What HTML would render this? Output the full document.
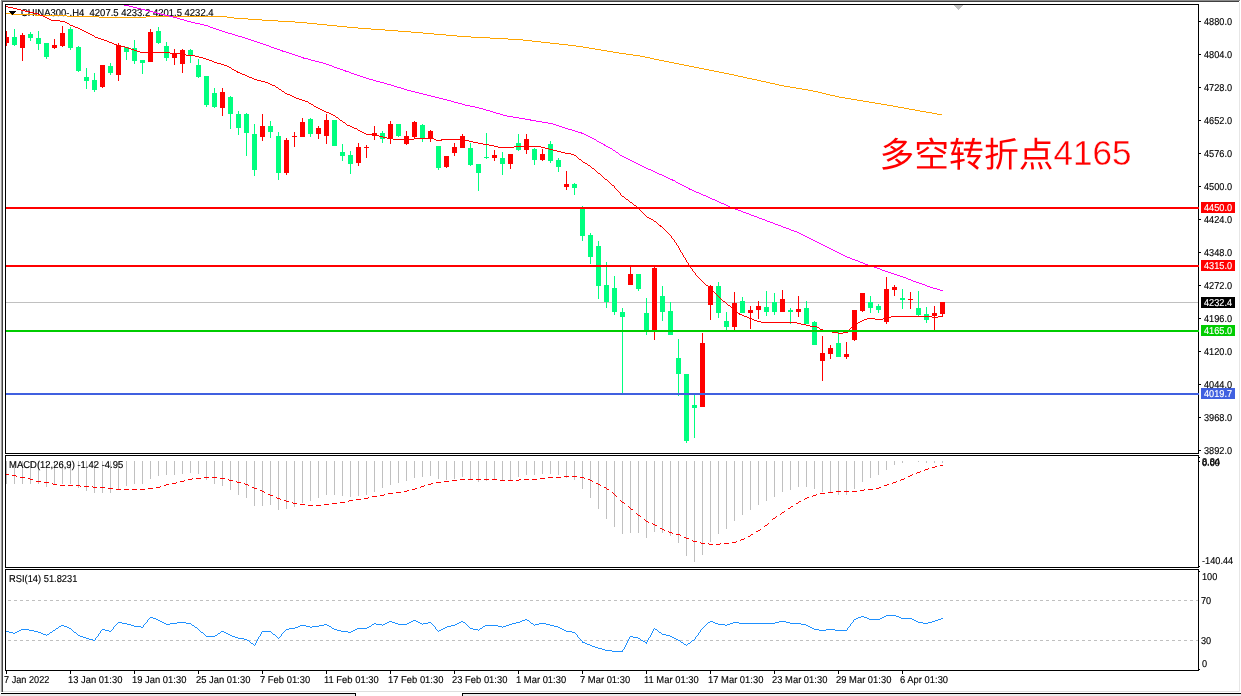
<!DOCTYPE html>
<html lang="zh">
<head>
<meta charset="utf-8">
<title>CHINA300-,H4</title>
<style>
html,body{margin:0;padding:0;background:#fff;}
body{width:1241px;height:696px;position:relative;overflow:hidden;font-family:"Liberation Sans",sans-serif;}
#chart{position:absolute;left:0;top:0;display:block;}
.layer{position:absolute;left:0;top:0;width:1241px;height:696px;will-change:transform;}
.t{position:absolute;white-space:pre;font-size:10.0px;line-height:12px;height:12px;transform-origin:0 50%;letter-spacing:0;-webkit-text-stroke:0.15px currentColor;}
#cjk{position:absolute;left:879.5px;top:132.5px;width:175px;height:40px;overflow:hidden;font-size:35px;line-height:40px;color:transparent;white-space:pre;}
#note{position:absolute;left:1053.5px;top:132.5px;font-size:35px;line-height:40px;color:#ff0000;white-space:pre;-webkit-text-stroke:0.35px #fff;}
</style>
</head>
<body>
<div class="layer">
<span class="t" style="left:20.5px;top:7.0px;color:#000;transform:matrix(0.949,0.0005,0,1,0,0)">CHINA300-.H4&nbsp; 4207.5 4233.2 4201.5 4232.4</span>
</div>
<svg id="chart" width="1241" height="696" viewBox="0 0 1241 696" shape-rendering="crispEdges">
<rect x="1" y="0" width="1239" height="1" fill="#8c8c8c"/>
<rect x="1" y="1" width="1238" height="1" fill="#404040"/>
<rect x="0" y="1" width="1" height="691" fill="#ececec"/>
<rect x="1" y="1" width="1" height="691" fill="#9a9a9a"/>
<rect x="2" y="2" width="1" height="690" fill="#404040"/>
<rect x="1239" y="2" width="1" height="690" fill="#e6e6e6"/>
<rect x="3" y="691" width="1236" height="1" fill="#dedede"/>
<rect x="0" y="694" width="356" height="2" fill="#ececec"/>
<rect x="462" y="694" width="779" height="2" fill="#ececec"/>
<rect x="1" y="693" width="355" height="1" fill="#000"/>
<rect x="462" y="693" width="779" height="1" fill="#000"/>
<rect x="355" y="693" width="1" height="3" fill="#000"/>
<rect x="462" y="693" width="1" height="3" fill="#000"/>
<clipPath id="cm"><rect x="6" y="5" width="1192" height="448"/></clipPath>
<rect x="6" y="302" width="1192" height="1" fill="#c0c0c0"/>
<g clip-path="url(#cm)">
<rect x="6" y="31" width="1" height="15" fill="#ff0000"/>
<rect x="4" y="37" width="5" height="6" fill="#ff0000"/>
<rect x="14" y="29" width="1" height="17" fill="#00ff7f"/>
<rect x="12" y="37" width="5" height="8" fill="#00ff7f"/>
<rect x="22" y="33" width="1" height="28" fill="#ff0000"/>
<rect x="20" y="35" width="5" height="13" fill="#ff0000"/>
<rect x="30" y="32" width="1" height="9" fill="#00ff7f"/>
<rect x="28" y="34" width="5" height="4" fill="#00ff7f"/>
<rect x="38" y="31" width="1" height="19" fill="#00ff7f"/>
<rect x="36" y="38" width="5" height="6" fill="#00ff7f"/>
<rect x="46" y="43" width="1" height="16" fill="#00ff7f"/>
<rect x="44" y="43" width="5" height="14" fill="#00ff7f"/>
<rect x="54" y="39" width="1" height="10" fill="#ff0000"/>
<rect x="52" y="45" width="5" height="3" fill="#ff0000"/>
<rect x="62" y="26" width="1" height="21" fill="#ff0000"/>
<rect x="60" y="33" width="5" height="13" fill="#ff0000"/>
<rect x="70" y="27" width="1" height="23" fill="#00ff7f"/>
<rect x="68" y="29" width="5" height="19" fill="#00ff7f"/>
<rect x="78" y="46" width="1" height="26" fill="#00ff7f"/>
<rect x="76" y="47" width="5" height="24" fill="#00ff7f"/>
<rect x="86" y="68" width="1" height="21" fill="#00ff7f"/>
<rect x="84" y="77" width="5" height="4" fill="#00ff7f"/>
<rect x="94" y="73" width="1" height="19" fill="#00ff7f"/>
<rect x="92" y="80" width="5" height="10" fill="#00ff7f"/>
<rect x="102" y="65" width="1" height="23" fill="#ff0000"/>
<rect x="100" y="65" width="5" height="22" fill="#ff0000"/>
<rect x="110" y="63" width="1" height="12" fill="#00ff7f"/>
<rect x="108" y="66" width="5" height="7" fill="#00ff7f"/>
<rect x="118" y="43" width="1" height="38" fill="#ff0000"/>
<rect x="116" y="45" width="5" height="30" fill="#ff0000"/>
<rect x="126" y="47" width="1" height="13" fill="#00ff7f"/>
<rect x="124" y="47" width="5" height="5" fill="#00ff7f"/>
<rect x="134" y="40" width="1" height="24" fill="#00ff7f"/>
<rect x="132" y="48" width="5" height="13" fill="#00ff7f"/>
<rect x="142" y="60" width="1" height="14" fill="#00ff7f"/>
<rect x="140" y="60" width="5" height="3" fill="#00ff7f"/>
<rect x="150" y="29" width="1" height="33" fill="#ff0000"/>
<rect x="148" y="32" width="5" height="30" fill="#ff0000"/>
<rect x="158" y="27" width="1" height="17" fill="#00ff7f"/>
<rect x="156" y="31" width="5" height="12" fill="#00ff7f"/>
<rect x="166" y="42" width="1" height="19" fill="#00ff7f"/>
<rect x="164" y="46" width="5" height="12" fill="#00ff7f"/>
<rect x="174" y="49" width="1" height="16" fill="#ff0000"/>
<rect x="172" y="54" width="5" height="4" fill="#ff0000"/>
<rect x="182" y="49" width="1" height="24" fill="#ff0000"/>
<rect x="180" y="50" width="5" height="14" fill="#ff0000"/>
<rect x="190" y="49" width="1" height="14" fill="#00ff7f"/>
<rect x="188" y="50" width="5" height="6" fill="#00ff7f"/>
<rect x="198" y="59" width="1" height="19" fill="#00ff7f"/>
<rect x="196" y="65" width="5" height="12" fill="#00ff7f"/>
<rect x="206" y="76" width="1" height="31" fill="#00ff7f"/>
<rect x="204" y="76" width="5" height="29" fill="#00ff7f"/>
<rect x="214" y="88" width="1" height="20" fill="#00ff7f"/>
<rect x="212" y="93" width="5" height="14" fill="#00ff7f"/>
<rect x="222" y="88" width="1" height="28" fill="#ff0000"/>
<rect x="220" y="92" width="5" height="16" fill="#ff0000"/>
<rect x="230" y="96" width="1" height="33" fill="#00ff7f"/>
<rect x="228" y="97" width="5" height="17" fill="#00ff7f"/>
<rect x="238" y="111" width="1" height="24" fill="#00ff7f"/>
<rect x="236" y="114" width="5" height="14" fill="#00ff7f"/>
<rect x="246" y="113" width="1" height="43" fill="#00ff7f"/>
<rect x="244" y="114" width="5" height="19" fill="#00ff7f"/>
<rect x="254" y="124" width="1" height="52" fill="#00ff7f"/>
<rect x="252" y="134" width="5" height="36" fill="#00ff7f"/>
<rect x="262" y="114" width="1" height="27" fill="#ff0000"/>
<rect x="260" y="126" width="5" height="11" fill="#ff0000"/>
<rect x="270" y="121" width="1" height="17" fill="#00ff7f"/>
<rect x="268" y="126" width="5" height="6" fill="#00ff7f"/>
<rect x="278" y="132" width="1" height="48" fill="#00ff7f"/>
<rect x="276" y="136" width="5" height="37" fill="#00ff7f"/>
<rect x="286" y="138" width="1" height="37" fill="#ff0000"/>
<rect x="284" y="140" width="5" height="33" fill="#ff0000"/>
<rect x="294" y="132" width="1" height="15" fill="#ff0000"/>
<rect x="292" y="136" width="5" height="1" fill="#ff0000"/>
<rect x="302" y="118" width="1" height="19" fill="#ff0000"/>
<rect x="300" y="122" width="5" height="15" fill="#ff0000"/>
<rect x="310" y="118" width="1" height="19" fill="#00ff7f"/>
<rect x="308" y="119" width="5" height="15" fill="#00ff7f"/>
<rect x="318" y="126" width="1" height="13" fill="#ff0000"/>
<rect x="316" y="128" width="5" height="6" fill="#ff0000"/>
<rect x="326" y="114" width="1" height="30" fill="#ff0000"/>
<rect x="324" y="120" width="5" height="16" fill="#ff0000"/>
<rect x="334" y="120" width="1" height="26" fill="#00ff7f"/>
<rect x="332" y="120" width="5" height="26" fill="#00ff7f"/>
<rect x="342" y="144" width="1" height="17" fill="#00ff7f"/>
<rect x="340" y="152" width="5" height="4" fill="#00ff7f"/>
<rect x="350" y="151" width="1" height="23" fill="#00ff7f"/>
<rect x="348" y="155" width="5" height="9" fill="#00ff7f"/>
<rect x="358" y="143" width="1" height="23" fill="#ff0000"/>
<rect x="356" y="147" width="5" height="16" fill="#ff0000"/>
<rect x="366" y="145" width="1" height="13" fill="#ff0000"/>
<rect x="364" y="147" width="5" height="1" fill="#ff0000"/>
<rect x="374" y="126" width="1" height="14" fill="#ff0000"/>
<rect x="372" y="133" width="5" height="3" fill="#ff0000"/>
<rect x="382" y="131" width="1" height="12" fill="#00ff7f"/>
<rect x="380" y="133" width="5" height="6" fill="#00ff7f"/>
<rect x="390" y="121" width="1" height="23" fill="#ff0000"/>
<rect x="388" y="124" width="5" height="15" fill="#ff0000"/>
<rect x="398" y="124" width="1" height="13" fill="#00ff7f"/>
<rect x="396" y="124" width="5" height="12" fill="#00ff7f"/>
<rect x="406" y="131" width="1" height="14" fill="#ff0000"/>
<rect x="404" y="136" width="5" height="8" fill="#ff0000"/>
<rect x="414" y="121" width="1" height="17" fill="#ff0000"/>
<rect x="412" y="122" width="5" height="15" fill="#ff0000"/>
<rect x="422" y="124" width="1" height="18" fill="#00ff7f"/>
<rect x="420" y="125" width="5" height="14" fill="#00ff7f"/>
<rect x="430" y="130" width="1" height="12" fill="#ff0000"/>
<rect x="428" y="131" width="5" height="8" fill="#ff0000"/>
<rect x="438" y="146" width="1" height="24" fill="#00ff7f"/>
<rect x="436" y="146" width="5" height="22" fill="#00ff7f"/>
<rect x="446" y="156" width="1" height="12" fill="#ff0000"/>
<rect x="444" y="156" width="5" height="11" fill="#ff0000"/>
<rect x="454" y="143" width="1" height="13" fill="#ff0000"/>
<rect x="452" y="147" width="5" height="6" fill="#ff0000"/>
<rect x="462" y="134" width="1" height="14" fill="#ff0000"/>
<rect x="460" y="136" width="5" height="12" fill="#ff0000"/>
<rect x="470" y="143" width="1" height="23" fill="#00ff7f"/>
<rect x="468" y="148" width="5" height="17" fill="#00ff7f"/>
<rect x="478" y="164" width="1" height="27" fill="#00ff7f"/>
<rect x="476" y="164" width="5" height="9" fill="#00ff7f"/>
<rect x="486" y="133" width="1" height="26" fill="#00ff7f"/>
<rect x="484" y="157" width="5" height="1" fill="#00ff7f"/>
<rect x="494" y="150" width="1" height="11" fill="#ff0000"/>
<rect x="492" y="155" width="5" height="3" fill="#ff0000"/>
<rect x="502" y="152" width="1" height="23" fill="#00ff7f"/>
<rect x="500" y="158" width="5" height="6" fill="#00ff7f"/>
<rect x="510" y="154" width="1" height="15" fill="#ff0000"/>
<rect x="508" y="154" width="5" height="10" fill="#ff0000"/>
<rect x="518" y="134" width="1" height="17" fill="#00ff7f"/>
<rect x="516" y="143" width="5" height="7" fill="#00ff7f"/>
<rect x="526" y="134" width="1" height="20" fill="#ff0000"/>
<rect x="524" y="139" width="5" height="11" fill="#ff0000"/>
<rect x="534" y="148" width="1" height="17" fill="#00ff7f"/>
<rect x="532" y="149" width="5" height="11" fill="#00ff7f"/>
<rect x="542" y="149" width="1" height="12" fill="#ff0000"/>
<rect x="540" y="154" width="5" height="6" fill="#ff0000"/>
<rect x="550" y="141" width="1" height="22" fill="#00ff7f"/>
<rect x="548" y="144" width="5" height="17" fill="#00ff7f"/>
<rect x="558" y="158" width="1" height="14" fill="#00ff7f"/>
<rect x="556" y="160" width="5" height="7" fill="#00ff7f"/>
<rect x="566" y="171" width="1" height="19" fill="#ff0000"/>
<rect x="564" y="184" width="5" height="3" fill="#ff0000"/>
<rect x="574" y="183" width="1" height="12" fill="#00ff7f"/>
<rect x="572" y="184" width="5" height="4" fill="#00ff7f"/>
<rect x="582" y="206" width="1" height="35" fill="#00ff7f"/>
<rect x="580" y="207" width="5" height="29" fill="#00ff7f"/>
<rect x="590" y="233" width="1" height="31" fill="#00ff7f"/>
<rect x="588" y="235" width="5" height="22" fill="#00ff7f"/>
<rect x="598" y="241" width="1" height="58" fill="#00ff7f"/>
<rect x="596" y="246" width="5" height="40" fill="#00ff7f"/>
<rect x="606" y="262" width="1" height="46" fill="#00ff7f"/>
<rect x="604" y="285" width="5" height="17" fill="#00ff7f"/>
<rect x="614" y="276" width="1" height="39" fill="#00ff7f"/>
<rect x="612" y="288" width="5" height="24" fill="#00ff7f"/>
<rect x="622" y="308" width="1" height="85" fill="#00ff7f"/>
<rect x="620" y="312" width="5" height="5" fill="#00ff7f"/>
<rect x="630" y="265" width="1" height="20" fill="#ff0000"/>
<rect x="628" y="274" width="5" height="11" fill="#ff0000"/>
<rect x="638" y="274" width="1" height="17" fill="#00ff7f"/>
<rect x="636" y="274" width="5" height="15" fill="#00ff7f"/>
<rect x="646" y="298" width="1" height="37" fill="#00ff7f"/>
<rect x="644" y="313" width="5" height="18" fill="#00ff7f"/>
<rect x="654" y="266" width="1" height="74" fill="#ff0000"/>
<rect x="652" y="268" width="5" height="63" fill="#ff0000"/>
<rect x="662" y="286" width="1" height="35" fill="#00ff7f"/>
<rect x="660" y="296" width="5" height="16" fill="#00ff7f"/>
<rect x="670" y="302" width="1" height="33" fill="#00ff7f"/>
<rect x="668" y="311" width="5" height="24" fill="#00ff7f"/>
<rect x="678" y="339" width="1" height="57" fill="#00ff7f"/>
<rect x="676" y="358" width="5" height="16" fill="#00ff7f"/>
<rect x="686" y="374" width="1" height="69" fill="#00ff7f"/>
<rect x="684" y="374" width="5" height="67" fill="#00ff7f"/>
<rect x="694" y="393" width="1" height="45" fill="#00ff7f"/>
<rect x="692" y="405" width="5" height="3" fill="#00ff7f"/>
<rect x="702" y="333" width="1" height="74" fill="#ff0000"/>
<rect x="700" y="343" width="5" height="64" fill="#ff0000"/>
<rect x="710" y="285" width="1" height="35" fill="#ff0000"/>
<rect x="708" y="286" width="5" height="19" fill="#ff0000"/>
<rect x="718" y="282" width="1" height="36" fill="#00ff7f"/>
<rect x="716" y="286" width="5" height="27" fill="#00ff7f"/>
<rect x="726" y="312" width="1" height="18" fill="#00ff7f"/>
<rect x="724" y="321" width="5" height="6" fill="#00ff7f"/>
<rect x="734" y="292" width="1" height="38" fill="#ff0000"/>
<rect x="732" y="303" width="5" height="24" fill="#ff0000"/>
<rect x="742" y="297" width="1" height="16" fill="#00ff7f"/>
<rect x="740" y="301" width="5" height="12" fill="#00ff7f"/>
<rect x="750" y="306" width="1" height="23" fill="#ff0000"/>
<rect x="748" y="310" width="5" height="3" fill="#ff0000"/>
<rect x="758" y="301" width="1" height="18" fill="#ff0000"/>
<rect x="756" y="306" width="5" height="4" fill="#ff0000"/>
<rect x="766" y="291" width="1" height="25" fill="#00ff7f"/>
<rect x="764" y="307" width="5" height="5" fill="#00ff7f"/>
<rect x="774" y="293" width="1" height="22" fill="#00ff7f"/>
<rect x="772" y="302" width="5" height="10" fill="#00ff7f"/>
<rect x="782" y="290" width="1" height="22" fill="#ff0000"/>
<rect x="780" y="299" width="5" height="13" fill="#ff0000"/>
<rect x="790" y="308" width="1" height="16" fill="#00ff7f"/>
<rect x="788" y="310" width="5" height="2" fill="#00ff7f"/>
<rect x="798" y="296" width="1" height="21" fill="#ff0000"/>
<rect x="796" y="309" width="5" height="3" fill="#ff0000"/>
<rect x="806" y="301" width="1" height="23" fill="#00ff7f"/>
<rect x="804" y="308" width="5" height="16" fill="#00ff7f"/>
<rect x="814" y="321" width="1" height="24" fill="#00ff7f"/>
<rect x="812" y="322" width="5" height="23" fill="#00ff7f"/>
<rect x="822" y="336" width="1" height="45" fill="#ff0000"/>
<rect x="820" y="353" width="5" height="8" fill="#ff0000"/>
<rect x="830" y="345" width="1" height="14" fill="#ff0000"/>
<rect x="828" y="348" width="5" height="6" fill="#ff0000"/>
<rect x="838" y="330" width="1" height="27" fill="#00ff7f"/>
<rect x="836" y="343" width="5" height="14" fill="#00ff7f"/>
<rect x="846" y="342" width="1" height="17" fill="#ff0000"/>
<rect x="844" y="354" width="5" height="3" fill="#ff0000"/>
<rect x="854" y="310" width="1" height="31" fill="#ff0000"/>
<rect x="852" y="310" width="5" height="30" fill="#ff0000"/>
<rect x="862" y="293" width="1" height="19" fill="#ff0000"/>
<rect x="860" y="293" width="5" height="18" fill="#ff0000"/>
<rect x="870" y="296" width="1" height="17" fill="#00ff7f"/>
<rect x="868" y="302" width="5" height="6" fill="#00ff7f"/>
<rect x="878" y="304" width="1" height="9" fill="#00ff7f"/>
<rect x="876" y="306" width="5" height="4" fill="#00ff7f"/>
<rect x="886" y="277" width="1" height="47" fill="#ff0000"/>
<rect x="884" y="289" width="5" height="33" fill="#ff0000"/>
<rect x="894" y="285" width="1" height="11" fill="#ff0000"/>
<rect x="892" y="287" width="5" height="3" fill="#ff0000"/>
<rect x="902" y="289" width="1" height="20" fill="#00ff7f"/>
<rect x="900" y="298" width="5" height="2" fill="#00ff7f"/>
<rect x="910" y="292" width="1" height="17" fill="#ff0000"/>
<rect x="908" y="299" width="5" height="1" fill="#ff0000"/>
<rect x="918" y="291" width="1" height="25" fill="#00ff7f"/>
<rect x="916" y="308" width="5" height="7" fill="#00ff7f"/>
<rect x="926" y="307" width="1" height="16" fill="#00ff7f"/>
<rect x="924" y="314" width="5" height="6" fill="#00ff7f"/>
<rect x="934" y="306" width="1" height="24" fill="#ff0000"/>
<rect x="932" y="313" width="5" height="3" fill="#ff0000"/>
<rect x="942" y="302" width="1" height="12" fill="#ff0000"/>
<rect x="940" y="302" width="5" height="12" fill="#ff0000"/>
</g>
<path d="M6 13h5v1h-5zM11 14h24v1h-24zM35 15h32v1h-32zM67 16h32v1h-32zM146 16h81v1h-81zM99 17h47v1h-47zM227 17h7v1h-7zM234 18h14v1h-14zM248 19h14v1h-14zM262 20h16v1h-16zM278 21h17v1h-17zM295 22h12v1h-12zM307 23h10v1h-10zM317 24h10v1h-10zM327 25h10v1h-10zM337 26h10v1h-10zM347 27h11v1h-11zM358 28h13v1h-13zM371 29h14v1h-14zM385 30h13v1h-13zM398 31h13v1h-13zM411 32h12v1h-12zM423 33h11v1h-11zM434 34h12v1h-12zM446 35h11v1h-11zM457 36h14v1h-14zM471 37h19v1h-19zM490 38h18v1h-18zM508 39h15v1h-15zM523 40h9v1h-9zM532 41h9v1h-9zM541 42h9v1h-9zM550 43h9v1h-9zM559 44h9v1h-9zM568 45h8v1h-8zM576 46h7v1h-7zM583 47h6v1h-6zM589 48h6v1h-6zM595 49h6v1h-6zM601 50h6v1h-6zM607 51h6v1h-6zM613 52h6v1h-6zM619 53h7v1h-7zM626 54h7v1h-7zM633 55h7v1h-7zM640 56h5v1h-5zM645 57h5v1h-5zM650 58h4v1h-4zM654 59h5v1h-5zM659 60h5v1h-5zM664 61h5v1h-5zM669 62h5v1h-5zM674 63h5v1h-5zM679 64h5v1h-5zM684 65h5v1h-5zM689 66h5v1h-5zM694 67h5v1h-5zM699 68h5v1h-5zM704 69h5v1h-5zM709 70h5v1h-5zM714 71h5v1h-5zM719 72h5v1h-5zM724 73h5v1h-5zM729 74h5v1h-5zM734 75h4v1h-4zM738 76h5v1h-5zM743 77h4v1h-4zM747 78h5v1h-5zM752 79h5v1h-5zM757 80h4v1h-4zM761 81h5v1h-5zM766 82h4v1h-4zM770 83h5v1h-5zM775 84h4v1h-4zM779 85h5v1h-5zM784 86h6v1h-6zM790 87h6v1h-6zM796 88h6v1h-6zM802 89h6v1h-6zM808 90h5v1h-5zM813 91h5v1h-5zM818 92h4v1h-4zM822 93h4v1h-4zM826 94h4v1h-4zM830 95h5v1h-5zM835 96h4v1h-4zM839 97h6v1h-6zM845 98h6v1h-6zM851 99h6v1h-6zM857 100h6v1h-6zM863 101h6v1h-6zM869 102h6v1h-6zM875 103h6v1h-6zM881 104h6v1h-6zM887 105h6v1h-6zM893 106h5v1h-5zM898 107h6v1h-6zM904 108h5v1h-5zM909 109h6v1h-6zM915 110h5v1h-5zM920 111h6v1h-6zM926 112h6v1h-6zM932 113h5v1h-5zM937 114h5v1h-5z" fill="#ffa500"/>
<path d="M124 5h5v1h-5zM129 6h4v1h-4zM133 7h4v1h-4zM137 8h4v1h-4zM141 9h4v1h-4zM145 10h4v1h-4zM149 11h4v1h-4zM153 12h4v1h-4zM157 13h4v1h-4zM161 14h4v1h-4zM165 15h4v1h-4zM169 16h4v1h-4zM173 17h4v1h-4zM177 18h3v1h-3zM180 19h4v1h-4zM184 20h3v1h-3zM187 21h4v1h-4zM191 22h4v1h-4zM195 23h5v1h-5zM200 24h4v1h-4zM204 25h4v1h-4zM208 26h2v1h-2zM210 27h3v1h-3zM213 28h3v1h-3zM216 29h3v1h-3zM219 30h3v1h-3zM222 31h3v1h-3zM225 32h3v1h-3zM228 33h4v1h-4zM232 34h3v1h-3zM235 35h3v1h-3zM238 36h4v1h-4zM242 37h3v1h-3zM245 38h3v1h-3zM248 39h3v1h-3zM251 40h3v1h-3zM254 41h3v1h-3zM257 42h3v1h-3zM260 43h3v1h-3zM263 44h3v1h-3zM266 45h3v1h-3zM269 46h2v1h-2zM271 47h3v1h-3zM274 48h3v1h-3zM277 49h3v1h-3zM280 50h3v1h-3zM282 51h4v1h-4zM286 52h3v1h-3zM289 53h3v1h-3zM292 54h3v1h-3zM295 55h3v1h-3zM298 56h3v1h-3zM301 57h3v1h-3zM303 58h5v1h-5zM308 59h3v1h-3zM311 60h4v1h-4zM315 61h4v1h-4zM319 62h4v1h-4zM323 63h3v1h-3zM326 64h3v1h-3zM329 65h3v1h-3zM332 66h2v1h-2zM334 67h3v1h-3zM337 68h3v1h-3zM340 69h3v1h-3zM343 70h3v1h-3zM345 71h4v1h-4zM349 72h2v1h-2zM351 73h3v1h-3zM354 74h3v1h-3zM357 75h3v1h-3zM360 76h3v1h-3zM363 77h3v1h-3zM366 78h3v1h-3zM369 79h4v1h-4zM373 80h3v1h-3zM376 81h4v1h-4zM380 82h4v1h-4zM384 83h3v1h-3zM387 84h4v1h-4zM391 85h3v1h-3zM394 86h3v1h-3zM397 87h4v1h-4zM401 88h3v1h-3zM404 89h3v1h-3zM407 90h4v1h-4zM411 91h4v1h-4zM415 92h4v1h-4zM419 93h4v1h-4zM423 94h4v1h-4zM427 95h4v1h-4zM431 96h4v1h-4zM435 97h4v1h-4zM439 98h4v1h-4zM443 99h4v1h-4zM447 100h4v1h-4zM451 101h3v1h-3zM454 102h4v1h-4zM458 103h4v1h-4zM462 104h3v1h-3zM465 105h5v1h-5zM470 106h5v1h-5zM475 107h4v1h-4zM479 108h4v1h-4zM483 109h3v1h-3zM486 110h4v1h-4zM490 111h3v1h-3zM493 112h3v1h-3zM496 113h4v1h-4zM500 114h3v1h-3zM503 115h4v1h-4zM507 116h6v1h-6zM513 117h6v1h-6zM519 118h6v1h-6zM525 119h6v1h-6zM530 120h6v1h-6zM536 121h6v1h-6zM542 122h6v1h-6zM548 123h5v1h-5zM553 124h3v1h-3zM556 125h3v1h-3zM559 126h3v1h-3zM562 127h3v1h-3zM565 128h3v1h-3zM568 129h4v1h-4zM572 130h3v1h-3zM575 131h3v1h-3zM578 132h4v1h-4zM581 133h3v1h-3zM584 134h2v1h-2zM586 135h2v1h-2zM588 136h2v1h-2zM590 137h2v1h-2zM592 138h2v1h-2zM594 139h2v1h-2zM596 140h1v1h-1zM597 141h2v1h-2zM599 142h2v1h-2zM601 143h2v1h-2zM603 144h2v1h-2zM604 145h2v1h-2zM606 146h2v1h-2zM608 147h2v1h-2zM610 148h2v1h-2zM612 149h1v1h-1zM613 150h2v1h-2zM615 151h1v1h-1zM616 152h2v1h-2zM618 153h1v1h-1zM619 154h1v1h-1zM620 155h2v1h-2zM622 156h2v1h-2zM624 157h2v1h-2zM626 158h2v1h-2zM628 159h2v1h-2zM630 160h2v1h-2zM632 161h2v1h-2zM634 162h2v1h-2zM636 163h2v1h-2zM638 164h2v1h-2zM640 165h2v1h-2zM642 166h2v1h-2zM644 167h2v1h-2zM646 168h2v1h-2zM648 169h3v1h-3zM651 170h2v1h-2zM653 171h2v1h-2zM655 172h2v1h-2zM657 173h2v1h-2zM659 174h3v1h-3zM662 175h2v1h-2zM664 176h2v1h-2zM666 177h2v1h-2zM668 178h2v1h-2zM670 179h3v1h-3zM672 180h3v1h-3zM675 181h1v1h-1zM676 182h2v1h-2zM678 183h2v1h-2zM680 184h2v1h-2zM682 185h2v1h-2zM684 186h2v1h-2zM686 187h2v1h-2zM688 188h2v1h-2zM689 189h3v1h-3zM692 190h2v1h-2zM694 191h2v1h-2zM696 192h3v1h-3zM699 193h2v1h-2zM701 194h2v1h-2zM703 195h3v1h-3zM706 196h2v1h-2zM708 197h2v1h-2zM710 198h2v1h-2zM712 199h3v1h-3zM715 200h2v1h-2zM717 201h2v1h-2zM719 202h2v1h-2zM721 203h3v1h-3zM724 204h2v1h-2zM726 205h2v1h-2zM728 206h2v1h-2zM730 207h3v1h-3zM733 208h2v1h-2zM735 209h3v1h-3zM738 210h3v1h-3zM741 211h2v1h-2zM743 212h3v1h-3zM746 213h3v1h-3zM749 214h2v1h-2zM751 215h3v1h-3zM754 216h3v1h-3zM757 217h2v1h-2zM759 218h3v1h-3zM762 219h3v1h-3zM765 220h2v1h-2zM767 221h3v1h-3zM770 222h3v1h-3zM773 223h2v1h-2zM775 224h3v1h-3zM778 225h3v1h-3zM781 226h2v1h-2zM783 227h3v1h-3zM786 228h3v1h-3zM789 229h2v1h-2zM791 230h3v1h-3zM794 231h3v1h-3zM797 232h2v1h-2zM799 233h2v1h-2zM801 234h2v1h-2zM803 235h2v1h-2zM805 236h2v1h-2zM807 237h2v1h-2zM809 238h2v1h-2zM811 239h2v1h-2zM813 240h2v1h-2zM815 241h2v1h-2zM817 242h2v1h-2zM819 243h2v1h-2zM821 244h2v1h-2zM823 245h2v1h-2zM825 246h2v1h-2zM827 247h2v1h-2zM829 248h2v1h-2zM831 249h2v1h-2zM833 250h2v1h-2zM835 251h2v1h-2zM837 252h2v1h-2zM839 253h2v1h-2zM841 254h2v1h-2zM843 255h2v1h-2zM845 256h2v1h-2zM847 257h3v1h-3zM850 258h2v1h-2zM852 259h3v1h-3zM855 260h3v1h-3zM858 261h2v1h-2zM860 262h3v1h-3zM863 263h2v1h-2zM865 264h3v1h-3zM868 265h3v1h-3zM871 266h3v1h-3zM874 267h3v1h-3zM877 268h3v1h-3zM880 269h2v1h-2zM882 270h3v1h-3zM885 271h3v1h-3zM888 272h3v1h-3zM891 273h3v1h-3zM894 274h3v1h-3zM897 275h3v1h-3zM900 276h3v1h-3zM903 277h3v1h-3zM906 278h2v1h-2zM908 279h3v1h-3zM911 280h2v1h-2zM913 281h3v1h-3zM916 282h3v1h-3zM919 283h3v1h-3zM922 284h3v1h-3zM925 285h2v1h-2zM927 286h3v1h-3zM930 287h3v1h-3zM933 288h4v1h-4zM937 289h3v1h-3zM940 290h3v1h-3z" fill="#ff00ff"/>
<path d="M6 6h2v1h-2zM8 7h5v1h-5zM13 8h4v1h-4zM17 9h4v1h-4zM21 10h4v1h-4zM25 11h5v1h-5zM30 12h4v1h-4zM34 13h4v1h-4zM38 14h2v1h-2zM40 15h3v1h-3zM43 16h2v1h-2zM45 17h2v1h-2zM47 18h2v1h-2zM49 19h2v1h-2zM51 20h9v1h-9zM60 21h5v1h-5zM65 22h2v1h-2zM67 23h2v1h-2zM69 24h1v1h-1zM70 25h3v1h-3zM73 26h2v1h-2zM75 27h3v1h-3zM78 28h2v1h-2zM80 29h2v1h-2zM82 30h2v1h-2zM84 31h2v1h-2zM86 32h2v1h-2zM88 33h2v1h-2zM90 34h2v1h-2zM92 35h2v1h-2zM94 36h1v1h-1zM95 37h3v1h-3zM98 38h3v1h-3zM101 39h3v1h-3zM104 40h3v1h-3zM107 41h2v1h-2zM109 42h3v1h-3zM112 43h2v1h-2zM114 44h3v1h-3zM117 45h4v1h-4zM121 46h4v1h-4zM125 47h3v1h-3zM128 48h3v1h-3zM131 49h3v1h-3zM134 50h3v1h-3zM137 51h3v1h-3zM140 52h30v1h-30zM170 53h11v1h-11zM181 54h5v1h-5zM186 55h9v1h-9zM195 56h4v1h-4zM199 57h4v1h-4zM203 58h3v1h-3zM206 59h3v1h-3zM209 60h3v1h-3zM212 61h2v1h-2zM214 62h3v1h-3zM217 63h4v1h-4zM221 64h3v1h-3zM224 65h3v1h-3zM227 66h2v1h-2zM229 67h2v1h-2zM231 68h1v1h-1zM232 69h2v1h-2zM234 70h2v1h-2zM236 71h2v1h-2zM237 72h3v1h-3zM240 73h2v1h-2zM242 74h3v1h-3zM245 75h2v1h-2zM247 76h2v1h-2zM249 77h3v1h-3zM252 78h2v1h-2zM254 79h3v1h-3zM257 80h4v1h-4zM261 81h4v1h-4zM265 82h3v1h-3zM268 83h2v1h-2zM270 84h2v1h-2zM272 85h3v1h-3zM275 86h1v1h-1zM276 87h2v1h-2zM278 88h1v1h-1zM279 89h2v1h-2zM281 90h1v1h-1zM282 91h2v1h-2zM284 92h1v1h-1zM285 93h2v1h-2zM287 94h3v1h-3zM290 95h2v1h-2zM292 96h2v1h-2zM294 97h2v1h-2zM296 98h3v1h-3zM299 99h3v1h-3zM302 100h3v1h-3zM305 101h3v1h-3zM308 102h1v1h-1zM309 103h2v1h-2zM311 104h2v1h-2zM313 105h1v1h-1zM314 106h2v1h-2zM316 107h2v1h-2zM318 108h2v1h-2zM320 109h2v1h-2zM322 110h2v1h-2zM324 111h2v1h-2zM326 112h3v1h-3zM329 113h2v1h-2zM331 114h2v1h-2zM333 115h2v1h-2zM335 116h1v1h-1zM336 117h2v1h-2zM338 118h1v1h-1zM339 119h1v1h-1zM340 120h2v1h-2zM342 121h1v1h-1zM343 122h2v1h-2zM345 123h1v1h-1zM346 124h1v1h-1zM347 125h3v1h-3zM350 126h2v1h-2zM352 127h2v1h-2zM354 128h3v1h-3zM357 129h1v1h-1zM358 130h2v1h-2zM360 131h2v1h-2zM362 132h2v1h-2zM364 133h2v1h-2zM366 134h9v1h-9zM375 135h4v1h-4zM379 136h4v1h-4zM383 137h4v1h-4zM387 138h6v1h-6zM414 138h20v1h-20zM393 139h21v1h-21zM434 139h2v1h-2zM441 139h23v1h-23zM436 140h6v1h-6zM464 140h5v1h-5zM469 141h4v1h-4zM473 142h5v1h-5zM478 143h5v1h-5zM483 144h6v1h-6zM489 145h5v1h-5zM494 146h4v1h-4zM514 146h27v1h-27zM498 147h16v1h-16zM541 147h4v1h-4zM545 148h4v1h-4zM549 149h4v1h-4zM553 150h4v1h-4zM557 151h4v1h-4zM561 152h4v1h-4zM565 153h6v1h-6zM571 154h3v1h-3zM574 155h2v1h-2zM576 156h1v1h-1zM577 157h1v1h-1zM578 158h1v1h-1zM579 159h2v1h-2zM581 160h1v1h-1zM582 161h1v1h-1zM583 162h2v1h-2zM585 163h2v1h-2zM587 164h1v1h-1zM588 165h2v1h-2zM590 166h1v1h-1zM591 167h1v1h-1zM592 168h2v1h-2zM594 169h1v1h-1zM595 170h1v1h-1zM596 171h1v1h-1zM597 172h1v1h-1zM598 173h2v1h-2zM600 174h1v1h-1zM601 175h1v1h-1zM602 176h1v1h-1zM603 177h1v1h-1zM604 178h1v1h-1zM605 179h2v1h-2zM607 180h1v1h-1zM608 181h1v1h-1zM609 182h1v1h-1zM610 183h1v1h-1zM611 184h1v1h-1zM612 185h2v1h-2zM614 186h1v1h-1zM614 187h1v1h-1zM615 188h1v1h-1zM616 189h1v1h-1zM617 190h1v1h-1zM618 191h1v1h-1zM619 192h1v1h-1zM620 193h1v1h-1zM620 194h1v1h-1zM621 195h1v1h-1zM622 196h2v1h-2zM624 197h1v1h-1zM625 198h1v1h-1zM626 199h2v1h-2zM628 200h1v1h-1zM629 201h1v1h-1zM630 202h2v1h-2zM632 203h1v1h-1zM633 204h1v1h-1zM634 205h2v1h-2zM636 206h1v1h-1zM637 207h2v1h-2zM638 208h1v1h-1zM639 209h1v1h-1zM640 210h1v1h-1zM641 211h1v1h-1zM642 212h1v1h-1zM643 213h1v1h-1zM644 214h1v1h-1zM645 215h1v1h-1zM646 216h1v1h-1zM647 217h2v1h-2zM649 218h2v1h-2zM651 219h2v1h-2zM653 220h1v1h-1zM654 221h2v1h-2zM656 222h1v1h-1zM657 223h1v1h-1zM658 224h1v1h-1zM659 225h2v1h-2zM660 226h2v1h-2zM662 227h1v1h-1zM663 228h1v1h-1zM664 229h1v1h-1zM665 230h1v1h-1zM666 231h1v1h-1zM667 232h1v1h-1zM668 233h1v1h-1zM669 234h1v1h-1zM670 235h1v1h-1zM671 236h1v1h-1zM671 237h1v1h-1zM672 238h1v1h-1zM673 239h1v1h-1zM674 240h1v1h-1zM674 241h1v1h-1zM675 242h1v1h-1zM676 243h1v1h-1zM676 244h1v1h-1zM677 245h1v1h-1zM678 246h1v1h-1zM678 247h1v1h-1zM679 248h1v1h-1zM679 249h1v1h-1zM680 250h1v1h-1zM680 251h1v1h-1zM681 252h1v1h-1zM682 253h1v1h-1zM682 254h1v1h-1zM683 255h1v1h-1zM683 256h1v1h-1zM684 257h1v1h-1zM685 258h1v1h-1zM685 259h1v1h-1zM686 260h1v1h-1zM686 261h1v1h-1zM687 262h1v1h-1zM688 263h1v1h-1zM688 264h1v1h-1zM689 265h1v1h-1zM690 266h1v1h-1zM690 267h1v1h-1zM691 268h1v1h-1zM692 269h1v1h-1zM692 270h1v1h-1zM693 271h1v1h-1zM694 272h1v1h-1zM695 273h1v1h-1zM695 274h1v1h-1zM696 275h1v1h-1zM697 276h1v1h-1zM698 277h1v1h-1zM699 278h1v1h-1zM700 279h1v1h-1zM701 280h1v1h-1zM702 281h1v1h-1zM703 282h1v1h-1zM704 283h1v1h-1zM705 284h1v1h-1zM706 285h2v1h-2zM708 286h1v1h-1zM709 287h1v1h-1zM710 288h1v1h-1zM711 289h1v1h-1zM712 290h1v1h-1zM713 291h1v1h-1zM714 292h1v1h-1zM715 293h1v1h-1zM716 294h1v1h-1zM717 295h1v1h-1zM718 296h1v1h-1zM719 297h1v1h-1zM720 298h1v1h-1zM721 299h1v1h-1zM722 300h1v1h-1zM723 301h2v1h-2zM725 302h1v1h-1zM726 303h1v1h-1zM727 304h1v1h-1zM728 305h2v1h-2zM730 306h1v1h-1zM731 307h1v1h-1zM732 308h1v1h-1zM733 309h2v1h-2zM735 310h1v1h-1zM736 311h1v1h-1zM737 312h1v1h-1zM738 313h2v1h-2zM943 313h1v1h-1zM739 314h3v1h-3zM942 314h1v1h-1zM742 315h2v1h-2zM942 315h1v1h-1zM744 316h3v1h-3zM891 316h41v1h-41zM938 316h5v1h-5zM747 317h2v1h-2zM886 317h5v1h-5zM932 317h6v1h-6zM749 318h3v1h-3zM867 318h8v1h-8zM883 318h3v1h-3zM752 319h2v1h-2zM864 319h3v1h-3zM875 319h8v1h-8zM754 320h3v1h-3zM862 320h2v1h-2zM757 321h4v1h-4zM860 321h2v1h-2zM761 322h36v1h-36zM858 322h2v1h-2zM797 323h4v1h-4zM857 323h1v1h-1zM801 324h5v1h-5zM855 324h2v1h-2zM806 325h4v1h-4zM854 325h1v1h-1zM810 326h7v1h-7zM852 326h2v1h-2zM817 327h2v1h-2zM851 327h1v1h-1zM819 328h1v1h-1zM850 328h1v1h-1zM820 329h3v1h-3zM849 329h1v1h-1zM823 330h5v1h-5zM848 330h1v1h-1zM828 331h4v1h-4zM847 331h1v1h-1zM832 332h6v1h-6zM843 332h5v1h-5zM838 333h5v1h-5z" fill="#ff0000"/>
<rect x="6" y="461" width="1" height="23" fill="#c0c0c0"/>
<rect x="14" y="461" width="1" height="23" fill="#c0c0c0"/>
<rect x="22" y="461" width="1" height="23" fill="#c0c0c0"/>
<rect x="30" y="461" width="1" height="23" fill="#c0c0c0"/>
<rect x="38" y="461" width="1" height="23" fill="#c0c0c0"/>
<rect x="46" y="461" width="1" height="26" fill="#c0c0c0"/>
<rect x="54" y="461" width="1" height="24" fill="#c0c0c0"/>
<rect x="62" y="461" width="1" height="23" fill="#c0c0c0"/>
<rect x="70" y="461" width="1" height="23" fill="#c0c0c0"/>
<rect x="78" y="461" width="1" height="27" fill="#c0c0c0"/>
<rect x="86" y="461" width="1" height="30" fill="#c0c0c0"/>
<rect x="94" y="461" width="1" height="32" fill="#c0c0c0"/>
<rect x="102" y="461" width="1" height="32" fill="#c0c0c0"/>
<rect x="110" y="461" width="1" height="32" fill="#c0c0c0"/>
<rect x="118" y="461" width="1" height="28" fill="#c0c0c0"/>
<rect x="126" y="461" width="1" height="25" fill="#c0c0c0"/>
<rect x="134" y="461" width="1" height="23" fill="#c0c0c0"/>
<rect x="142" y="461" width="1" height="23" fill="#c0c0c0"/>
<rect x="150" y="461" width="1" height="18" fill="#c0c0c0"/>
<rect x="158" y="461" width="1" height="15" fill="#c0c0c0"/>
<rect x="166" y="461" width="1" height="14" fill="#c0c0c0"/>
<rect x="174" y="461" width="1" height="14" fill="#c0c0c0"/>
<rect x="182" y="461" width="1" height="13" fill="#c0c0c0"/>
<rect x="190" y="461" width="1" height="12" fill="#c0c0c0"/>
<rect x="198" y="461" width="1" height="13" fill="#c0c0c0"/>
<rect x="206" y="461" width="1" height="19" fill="#c0c0c0"/>
<rect x="214" y="461" width="1" height="23" fill="#c0c0c0"/>
<rect x="222" y="461" width="1" height="25" fill="#c0c0c0"/>
<rect x="230" y="461" width="1" height="29" fill="#c0c0c0"/>
<rect x="238" y="461" width="1" height="34" fill="#c0c0c0"/>
<rect x="246" y="461" width="1" height="37" fill="#c0c0c0"/>
<rect x="254" y="461" width="1" height="45" fill="#c0c0c0"/>
<rect x="262" y="461" width="1" height="45" fill="#c0c0c0"/>
<rect x="270" y="461" width="1" height="44" fill="#c0c0c0"/>
<rect x="278" y="461" width="1" height="49" fill="#c0c0c0"/>
<rect x="286" y="461" width="1" height="48" fill="#c0c0c0"/>
<rect x="294" y="461" width="1" height="46" fill="#c0c0c0"/>
<rect x="302" y="461" width="1" height="42" fill="#c0c0c0"/>
<rect x="310" y="461" width="1" height="40" fill="#c0c0c0"/>
<rect x="318" y="461" width="1" height="37" fill="#c0c0c0"/>
<rect x="326" y="461" width="1" height="34" fill="#c0c0c0"/>
<rect x="334" y="461" width="1" height="34" fill="#c0c0c0"/>
<rect x="342" y="461" width="1" height="35" fill="#c0c0c0"/>
<rect x="350" y="461" width="1" height="36" fill="#c0c0c0"/>
<rect x="358" y="461" width="1" height="35" fill="#c0c0c0"/>
<rect x="366" y="461" width="1" height="34" fill="#c0c0c0"/>
<rect x="374" y="461" width="1" height="31" fill="#c0c0c0"/>
<rect x="382" y="461" width="1" height="27" fill="#c0c0c0"/>
<rect x="390" y="461" width="1" height="24" fill="#c0c0c0"/>
<rect x="398" y="461" width="1" height="22" fill="#c0c0c0"/>
<rect x="406" y="461" width="1" height="20" fill="#c0c0c0"/>
<rect x="414" y="461" width="1" height="17" fill="#c0c0c0"/>
<rect x="422" y="461" width="1" height="16" fill="#c0c0c0"/>
<rect x="430" y="461" width="1" height="15" fill="#c0c0c0"/>
<rect x="438" y="461" width="1" height="18" fill="#c0c0c0"/>
<rect x="446" y="461" width="1" height="19" fill="#c0c0c0"/>
<rect x="454" y="461" width="1" height="18" fill="#c0c0c0"/>
<rect x="462" y="461" width="1" height="16" fill="#c0c0c0"/>
<rect x="470" y="461" width="1" height="19" fill="#c0c0c0"/>
<rect x="478" y="461" width="1" height="21" fill="#c0c0c0"/>
<rect x="486" y="461" width="1" height="20" fill="#c0c0c0"/>
<rect x="494" y="461" width="1" height="19" fill="#c0c0c0"/>
<rect x="502" y="461" width="1" height="20" fill="#c0c0c0"/>
<rect x="510" y="461" width="1" height="19" fill="#c0c0c0"/>
<rect x="518" y="461" width="1" height="16" fill="#c0c0c0"/>
<rect x="526" y="461" width="1" height="14" fill="#c0c0c0"/>
<rect x="534" y="461" width="1" height="14" fill="#c0c0c0"/>
<rect x="542" y="461" width="1" height="13" fill="#c0c0c0"/>
<rect x="550" y="461" width="1" height="13" fill="#c0c0c0"/>
<rect x="558" y="461" width="1" height="14" fill="#c0c0c0"/>
<rect x="566" y="461" width="1" height="17" fill="#c0c0c0"/>
<rect x="574" y="461" width="1" height="19" fill="#c0c0c0"/>
<rect x="582" y="461" width="1" height="28" fill="#c0c0c0"/>
<rect x="590" y="461" width="1" height="37" fill="#c0c0c0"/>
<rect x="598" y="461" width="1" height="48" fill="#c0c0c0"/>
<rect x="606" y="461" width="1" height="58" fill="#c0c0c0"/>
<rect x="614" y="461" width="1" height="66" fill="#c0c0c0"/>
<rect x="622" y="461" width="1" height="73" fill="#c0c0c0"/>
<rect x="630" y="461" width="1" height="72" fill="#c0c0c0"/>
<rect x="638" y="461" width="1" height="72" fill="#c0c0c0"/>
<rect x="646" y="461" width="1" height="77" fill="#c0c0c0"/>
<rect x="654" y="461" width="1" height="71" fill="#c0c0c0"/>
<rect x="662" y="461" width="1" height="72" fill="#c0c0c0"/>
<rect x="670" y="461" width="1" height="75" fill="#c0c0c0"/>
<rect x="678" y="461" width="1" height="82" fill="#c0c0c0"/>
<rect x="686" y="461" width="1" height="95" fill="#c0c0c0"/>
<rect x="694" y="461" width="1" height="101" fill="#c0c0c0"/>
<rect x="702" y="461" width="1" height="94" fill="#c0c0c0"/>
<rect x="710" y="461" width="1" height="81" fill="#c0c0c0"/>
<rect x="718" y="461" width="1" height="73" fill="#c0c0c0"/>
<rect x="726" y="461" width="1" height="68" fill="#c0c0c0"/>
<rect x="734" y="461" width="1" height="60" fill="#c0c0c0"/>
<rect x="742" y="461" width="1" height="54" fill="#c0c0c0"/>
<rect x="750" y="461" width="1" height="49" fill="#c0c0c0"/>
<rect x="758" y="461" width="1" height="44" fill="#c0c0c0"/>
<rect x="766" y="461" width="1" height="40" fill="#c0c0c0"/>
<rect x="774" y="461" width="1" height="36" fill="#c0c0c0"/>
<rect x="782" y="461" width="1" height="31" fill="#c0c0c0"/>
<rect x="790" y="461" width="1" height="29" fill="#c0c0c0"/>
<rect x="798" y="461" width="1" height="26" fill="#c0c0c0"/>
<rect x="806" y="461" width="1" height="26" fill="#c0c0c0"/>
<rect x="814" y="461" width="1" height="28" fill="#c0c0c0"/>
<rect x="822" y="461" width="1" height="31" fill="#c0c0c0"/>
<rect x="830" y="461" width="1" height="32" fill="#c0c0c0"/>
<rect x="838" y="461" width="1" height="34" fill="#c0c0c0"/>
<rect x="846" y="461" width="1" height="34" fill="#c0c0c0"/>
<rect x="854" y="461" width="1" height="28" fill="#c0c0c0"/>
<rect x="862" y="461" width="1" height="21" fill="#c0c0c0"/>
<rect x="870" y="461" width="1" height="17" fill="#c0c0c0"/>
<rect x="878" y="461" width="1" height="14" fill="#c0c0c0"/>
<rect x="886" y="461" width="1" height="9" fill="#c0c0c0"/>
<rect x="894" y="461" width="1" height="4" fill="#c0c0c0"/>
<rect x="902" y="461" width="1" height="2" fill="#c0c0c0"/>
<rect x="918" y="461" width="1" height="1" fill="#c0c0c0"/>
<rect x="926" y="461" width="1" height="2" fill="#c0c0c0"/>
<rect x="934" y="461" width="1" height="2" fill="#c0c0c0"/>
<rect x="942" y="461" width="1" height="2" fill="#c0c0c0"/>
<path d="M940 465h3v1h-3zM935 466h2v1h-2zM932 467h3v1h-3zM928 468h1v1h-1zM925 469h3v1h-3zM924 470h1v1h-1zM920 471h1v1h-1zM917 472h3v1h-3zM916 473h1v1h-1zM6 474h3v1h-3zM912 474h1v1h-1zM12 475h4v1h-4zM910 475h2v1h-2zM16 476h1v1h-1zM564 476h5v1h-5zM572 476h5v1h-5zM908 476h2v1h-2zM20 477h5v1h-5zM204 477h5v1h-5zM212 477h5v1h-5zM548 477h5v1h-5zM556 477h5v1h-5zM580 477h4v1h-4zM28 478h2v1h-2zM192 478h1v1h-1zM196 478h5v1h-5zM220 478h5v1h-5zM540 478h5v1h-5zM584 478h1v1h-1zM904 478h1v1h-1zM30 479h3v1h-3zM188 479h4v1h-4zM228 479h1v1h-1zM460 479h5v1h-5zM468 479h5v1h-5zM476 479h5v1h-5zM484 479h5v1h-5zM492 479h5v1h-5zM519 479h2v1h-2zM524 479h5v1h-5zM532 479h5v1h-5zM588 479h2v1h-2zM901 479h3v1h-3zM184 480h1v1h-1zM229 480h4v1h-4zM452 480h5v1h-5zM500 480h5v1h-5zM508 480h5v1h-5zM516 480h3v1h-3zM590 480h2v1h-2zM900 480h1v1h-1zM36 481h5v1h-5zM180 481h4v1h-4zM236 481h1v1h-1zM444 481h5v1h-5zM592 481h1v1h-1zM896 481h1v1h-1zM44 482h5v1h-5zM176 482h1v1h-1zM237 482h4v1h-4zM436 482h5v1h-5zM893 482h3v1h-3zM52 483h1v1h-1zM172 483h4v1h-4zM244 483h1v1h-1zM431 483h2v1h-2zM596 483h2v1h-2zM892 483h1v1h-1zM53 484h4v1h-4zM166 484h3v1h-3zM245 484h3v1h-3zM428 484h3v1h-3zM598 484h2v1h-2zM887 484h2v1h-2zM60 485h5v1h-5zM68 485h5v1h-5zM76 485h4v1h-4zM164 485h2v1h-2zM248 485h1v1h-1zM424 485h1v1h-1zM600 485h1v1h-1zM884 485h3v1h-3zM80 486h1v1h-1zM84 486h5v1h-5zM92 486h1v1h-1zM160 486h1v1h-1zM421 486h3v1h-3zM93 487h4v1h-4zM100 487h5v1h-5zM156 487h4v1h-4zM252 487h2v1h-2zM420 487h1v1h-1zM604 487h2v1h-2zM879 487h2v1h-2zM108 488h5v1h-5zM148 488h5v1h-5zM254 488h3v1h-3zM415 488h2v1h-2zM606 488h1v1h-1zM876 488h3v1h-3zM116 489h5v1h-5zM124 489h5v1h-5zM132 489h5v1h-5zM140 489h5v1h-5zM412 489h3v1h-3zM607 489h2v1h-2zM864 489h1v1h-1zM868 489h5v1h-5zM260 490h2v1h-2zM407 490h2v1h-2zM860 490h4v1h-4zM262 491h2v1h-2zM404 491h3v1h-3zM836 491h5v1h-5zM844 491h5v1h-5zM852 491h5v1h-5zM264 492h1v1h-1zM396 492h5v1h-5zM612 492h1v1h-1zM828 492h5v1h-5zM388 493h5v1h-5zM613 493h1v1h-1zM820 493h5v1h-5zM268 494h2v1h-2zM384 494h1v1h-1zM614 494h1v1h-1zM816 494h1v1h-1zM270 495h3v1h-3zM380 495h4v1h-4zM615 495h1v1h-1zM813 495h3v1h-3zM372 496h5v1h-5zM616 496h1v1h-1zM812 496h1v1h-1zM276 497h1v1h-1zM368 497h1v1h-1zM807 497h2v1h-2zM277 498h3v1h-3zM364 498h4v1h-4zM805 498h2v1h-2zM280 499h1v1h-1zM356 499h5v1h-5zM804 499h1v1h-1zM284 500h2v1h-2zM349 500h4v1h-4zM620 500h1v1h-1zM286 501h3v1h-3zM348 501h1v1h-1zM621 501h1v1h-1zM799 501h2v1h-2zM292 502h1v1h-1zM340 502h5v1h-5zM622 502h2v1h-2zM798 502h1v1h-1zM293 503h4v1h-4zM332 503h5v1h-5zM624 503h1v1h-1zM796 503h2v1h-2zM300 504h5v1h-5zM324 504h5v1h-5zM308 505h5v1h-5zM316 505h5v1h-5zM628 506h1v1h-1zM791 506h2v1h-2zM629 507h1v1h-1zM790 507h1v1h-1zM630 508h1v1h-1zM788 508h2v1h-2zM631 509h2v1h-2zM784 511h1v1h-1zM782 512h2v1h-2zM636 513h1v1h-1zM781 513h1v1h-1zM637 514h1v1h-1zM780 514h1v1h-1zM638 515h2v1h-2zM640 516h1v1h-1zM776 516h1v1h-1zM775 517h1v1h-1zM773 518h2v1h-2zM644 519h1v1h-1zM772 519h1v1h-1zM645 520h1v1h-1zM646 521h2v1h-2zM648 522h1v1h-1zM652 523h1v1h-1zM768 523h1v1h-1zM653 524h2v1h-2zM767 524h1v1h-1zM655 525h2v1h-2zM765 525h2v1h-2zM764 526h1v1h-1zM660 528h2v1h-2zM662 529h2v1h-2zM760 529h1v1h-1zM664 530h1v1h-1zM758 530h2v1h-2zM668 531h1v1h-1zM756 531h2v1h-2zM669 532h3v1h-3zM672 533h1v1h-1zM676 534h4v1h-4zM751 534h2v1h-2zM680 535h1v1h-1zM750 535h1v1h-1zM748 536h2v1h-2zM684 537h2v1h-2zM686 538h3v1h-3zM744 538h1v1h-1zM741 539h3v1h-3zM692 540h1v1h-1zM740 540h1v1h-1zM693 541h4v1h-4zM736 541h1v1h-1zM700 542h1v1h-1zM732 542h4v1h-4zM701 543h4v1h-4zM708 543h1v1h-1zM720 543h1v1h-1zM724 543h5v1h-5zM709 544h4v1h-4zM716 544h4v1h-4z" fill="#ff0000"/>
<path d="M8,600.5H1198" stroke="#c0c0c0" stroke-width="1" stroke-dasharray="3 3" fill="none"/>
<path d="M8,640.5H1198" stroke="#c0c0c0" stroke-width="1" stroke-dasharray="3 3" fill="none"/>
<path d="M886 615h10v1h-10zM861 616h3v1h-3zM884 616h2v1h-2zM896 616h3v1h-3zM150 617h3v1h-3zM858 617h3v1h-3zM864 617h3v1h-3zM882 617h2v1h-2zM899 617h2v1h-2zM149 618h1v1h-1zM153 618h3v1h-3zM856 618h2v1h-2zM867 618h2v1h-2zM880 618h2v1h-2zM901 618h11v1h-11zM941 618h2v1h-2zM148 619h1v1h-1zM156 619h2v1h-2zM525 619h2v1h-2zM854 619h2v1h-2zM869 619h11v1h-11zM912 619h2v1h-2zM938 619h3v1h-3zM147 620h1v1h-1zM158 620h2v1h-2zM413 620h3v1h-3zM522 620h3v1h-3zM527 620h2v1h-2zM853 620h1v1h-1zM914 620h2v1h-2zM935 620h3v1h-3zM147 621h1v1h-1zM160 621h2v1h-2zM389 621h3v1h-3zM411 621h2v1h-2zM416 621h2v1h-2zM461 621h2v1h-2zM520 621h2v1h-2zM529 621h1v1h-1zM710 621h3v1h-3zM779 621h7v1h-7zM853 621h1v1h-1zM916 621h2v1h-2zM932 621h3v1h-3zM118 622h4v1h-4zM146 622h1v1h-1zM162 622h2v1h-2zM177 622h9v1h-9zM387 622h2v1h-2zM392 622h3v1h-3zM409 622h2v1h-2zM418 622h2v1h-2zM428 622h3v1h-3zM459 622h2v1h-2zM463 622h2v1h-2zM516 622h4v1h-4zM530 622h1v1h-1zM708 622h2v1h-2zM713 622h2v1h-2zM733 622h6v1h-6zM775 622h4v1h-4zM786 622h4v1h-4zM852 622h1v1h-1zM918 622h5v1h-5zM928 622h4v1h-4zM117 623h1v1h-1zM122 623h5v1h-5zM145 623h1v1h-1zM164 623h2v1h-2zM170 623h7v1h-7zM186 623h5v1h-5zM374 623h2v1h-2zM385 623h2v1h-2zM395 623h3v1h-3zM407 623h2v1h-2zM420 623h2v1h-2zM423 623h5v1h-5zM431 623h1v1h-1zM457 623h2v1h-2zM465 623h1v1h-1zM512 623h4v1h-4zM531 623h2v1h-2zM539 623h7v1h-7zM707 623h1v1h-1zM715 623h3v1h-3zM730 623h3v1h-3zM739 623h36v1h-36zM790 623h11v1h-11zM851 623h1v1h-1zM923 623h5v1h-5zM116 624h1v1h-1zM127 624h4v1h-4zM144 624h1v1h-1zM166 624h4v1h-4zM191 624h1v1h-1zM324 624h3v1h-3zM372 624h2v1h-2zM376 624h6v1h-6zM383 624h2v1h-2zM398 624h9v1h-9zM422 624h1v1h-1zM432 624h1v1h-1zM455 624h2v1h-2zM466 624h1v1h-1zM509 624h3v1h-3zM533 624h1v1h-1zM535 624h4v1h-4zM546 624h4v1h-4zM706 624h1v1h-1zM718 624h7v1h-7zM727 624h3v1h-3zM801 624h5v1h-5zM850 624h1v1h-1zM61 625h3v1h-3zM115 625h1v1h-1zM131 625h3v1h-3zM143 625h1v1h-1zM192 625h2v1h-2zM300 625h6v1h-6zM319 625h5v1h-5zM327 625h2v1h-2zM371 625h1v1h-1zM382 625h1v1h-1zM433 625h1v1h-1zM451 625h4v1h-4zM467 625h1v1h-1zM485 625h13v1h-13zM506 625h3v1h-3zM534 625h1v1h-1zM550 625h4v1h-4zM705 625h1v1h-1zM725 625h2v1h-2zM806 625h2v1h-2zM850 625h1v1h-1zM59 626h2v1h-2zM64 626h3v1h-3zM114 626h1v1h-1zM134 626h7v1h-7zM143 626h1v1h-1zM194 626h1v1h-1zM298 626h2v1h-2zM306 626h4v1h-4zM312 626h7v1h-7zM329 626h2v1h-2zM369 626h2v1h-2zM434 626h1v1h-1zM447 626h4v1h-4zM468 626h1v1h-1zM483 626h2v1h-2zM498 626h4v1h-4zM503 626h3v1h-3zM554 626h4v1h-4zM704 626h1v1h-1zM808 626h2v1h-2zM849 626h1v1h-1zM58 627h1v1h-1zM67 627h2v1h-2zM113 627h1v1h-1zM141 627h2v1h-2zM195 627h2v1h-2zM295 627h3v1h-3zM310 627h2v1h-2zM331 627h1v1h-1zM367 627h2v1h-2zM435 627h1v1h-1zM445 627h2v1h-2zM469 627h1v1h-1zM482 627h1v1h-1zM502 627h1v1h-1zM558 627h2v1h-2zM703 627h1v1h-1zM810 627h2v1h-2zM848 627h1v1h-1zM56 628h2v1h-2zM69 628h2v1h-2zM113 628h1v1h-1zM197 628h1v1h-1zM289 628h6v1h-6zM332 628h2v1h-2zM357 628h10v1h-10zM435 628h1v1h-1zM443 628h2v1h-2zM470 628h3v1h-3zM480 628h2v1h-2zM560 628h2v1h-2zM654 628h1v1h-1zM702 628h1v1h-1zM812 628h2v1h-2zM847 628h1v1h-1zM21 629h8v1h-8zM55 629h1v1h-1zM71 629h1v1h-1zM102 629h3v1h-3zM112 629h1v1h-1zM198 629h1v1h-1zM286 629h3v1h-3zM334 629h3v1h-3zM355 629h2v1h-2zM436 629h1v1h-1zM441 629h2v1h-2zM473 629h5v1h-5zM479 629h1v1h-1zM562 629h2v1h-2zM653 629h1v1h-1zM655 629h2v1h-2zM701 629h1v1h-1zM814 629h5v1h-5zM826 629h9v1h-9zM847 629h1v1h-1zM19 630h2v1h-2zM29 630h5v1h-5zM53 630h2v1h-2zM72 630h1v1h-1zM101 630h1v1h-1zM105 630h4v1h-4zM111 630h1v1h-1zM199 630h1v1h-1zM285 630h1v1h-1zM337 630h4v1h-4zM353 630h2v1h-2zM437 630h1v1h-1zM439 630h2v1h-2zM478 630h1v1h-1zM564 630h2v1h-2zM653 630h1v1h-1zM657 630h1v1h-1zM700 630h1v1h-1zM819 630h7v1h-7zM835 630h12v1h-12zM6 631h3v1h-3zM17 631h2v1h-2zM34 631h4v1h-4zM52 631h1v1h-1zM73 631h1v1h-1zM100 631h1v1h-1zM109 631h2v1h-2zM200 631h1v1h-1zM221 631h3v1h-3zM262 631h9v1h-9zM284 631h1v1h-1zM341 631h7v1h-7zM351 631h2v1h-2zM438 631h1v1h-1zM566 631h6v1h-6zM652 631h1v1h-1zM658 631h1v1h-1zM700 631h1v1h-1zM9 632h4v1h-4zM15 632h2v1h-2zM38 632h3v1h-3zM50 632h2v1h-2zM74 632h2v1h-2zM100 632h1v1h-1zM201 632h2v1h-2zM220 632h1v1h-1zM224 632h2v1h-2zM261 632h1v1h-1zM271 632h1v1h-1zM283 632h1v1h-1zM348 632h3v1h-3zM572 632h3v1h-3zM652 632h1v1h-1zM659 632h2v1h-2zM699 632h1v1h-1zM13 633h2v1h-2zM41 633h2v1h-2zM49 633h1v1h-1zM76 633h1v1h-1zM99 633h1v1h-1zM203 633h1v1h-1zM218 633h2v1h-2zM226 633h2v1h-2zM261 633h1v1h-1zM272 633h1v1h-1zM282 633h1v1h-1zM575 633h1v1h-1zM651 633h1v1h-1zM661 633h1v1h-1zM698 633h1v1h-1zM43 634h3v1h-3zM47 634h2v1h-2zM77 634h1v1h-1zM98 634h1v1h-1zM204 634h1v1h-1zM217 634h1v1h-1zM228 634h2v1h-2zM260 634h1v1h-1zM273 634h2v1h-2zM281 634h1v1h-1zM576 634h1v1h-1zM651 634h1v1h-1zM662 634h4v1h-4zM698 634h1v1h-1zM46 635h1v1h-1zM78 635h2v1h-2zM98 635h1v1h-1zM205 635h1v1h-1zM215 635h2v1h-2zM230 635h2v1h-2zM260 635h1v1h-1zM275 635h1v1h-1zM281 635h1v1h-1zM577 635h1v1h-1zM650 635h1v1h-1zM666 635h4v1h-4zM697 635h1v1h-1zM80 636h3v1h-3zM97 636h1v1h-1zM206 636h9v1h-9zM232 636h3v1h-3zM259 636h1v1h-1zM276 636h1v1h-1zM280 636h1v1h-1zM577 636h1v1h-1zM630 636h3v1h-3zM650 636h1v1h-1zM670 636h2v1h-2zM696 636h1v1h-1zM83 637h3v1h-3zM96 637h1v1h-1zM235 637h3v1h-3zM258 637h1v1h-1zM277 637h1v1h-1zM279 637h1v1h-1zM578 637h1v1h-1zM629 637h1v1h-1zM633 637h5v1h-5zM649 637h1v1h-1zM672 637h2v1h-2zM695 637h1v1h-1zM86 638h3v1h-3zM95 638h1v1h-1zM238 638h6v1h-6zM258 638h1v1h-1zM278 638h1v1h-1zM579 638h1v1h-1zM629 638h1v1h-1zM638 638h2v1h-2zM648 638h1v1h-1zM674 638h2v1h-2zM695 638h1v1h-1zM89 639h4v1h-4zM95 639h1v1h-1zM244 639h3v1h-3zM257 639h1v1h-1zM580 639h1v1h-1zM628 639h1v1h-1zM640 639h1v1h-1zM648 639h1v1h-1zM676 639h2v1h-2zM694 639h1v1h-1zM93 640h2v1h-2zM247 640h2v1h-2zM257 640h1v1h-1zM581 640h1v1h-1zM628 640h1v1h-1zM641 640h2v1h-2zM647 640h1v1h-1zM678 640h2v1h-2zM692 640h2v1h-2zM249 641h1v1h-1zM256 641h1v1h-1zM582 641h1v1h-1zM627 641h1v1h-1zM643 641h2v1h-2zM647 641h1v1h-1zM680 641h1v1h-1zM691 641h1v1h-1zM250 642h1v1h-1zM256 642h1v1h-1zM582 642h3v1h-3zM627 642h1v1h-1zM645 642h2v1h-2zM681 642h2v1h-2zM690 642h1v1h-1zM251 643h2v1h-2zM255 643h1v1h-1zM585 643h2v1h-2zM626 643h1v1h-1zM646 643h1v1h-1zM683 643h1v1h-1zM688 643h2v1h-2zM253 644h1v1h-1zM255 644h1v1h-1zM587 644h3v1h-3zM626 644h1v1h-1zM684 644h2v1h-2zM687 644h1v1h-1zM254 645h1v1h-1zM590 645h2v1h-2zM625 645h1v1h-1zM686 645h1v1h-1zM592 646h3v1h-3zM625 646h1v1h-1zM595 647h3v1h-3zM624 647h1v1h-1zM598 648h4v1h-4zM624 648h1v1h-1zM602 649h3v1h-3zM623 649h1v1h-1zM605 650h7v1h-7zM622 650h1v1h-1zM612 651h11v1h-11z" fill="#1e90ff"/>
<rect x="5" y="4" width="1" height="667" fill="#000"/>
<rect x="1198" y="4" width="1" height="667" fill="#000"/>
<rect x="5" y="4" width="1194" height="1" fill="#000"/>
<rect x="5" y="453" width="1194" height="1" fill="#000"/>
<rect x="5" y="455" width="1194" height="1" fill="#000"/>
<rect x="5" y="567" width="1194" height="1" fill="#000"/>
<rect x="5" y="569" width="1194" height="1" fill="#000"/>
<rect x="5" y="670" width="1194" height="1" fill="#000"/>
<rect x="5" y="454" width="1194" height="1" fill="#fff"/>
<rect x="5" y="568" width="1194" height="1" fill="#fff"/>
<rect x="6" y="207" width="1193" height="2" fill="#ff0000"/>
<rect x="6" y="265" width="1193" height="2" fill="#ff0000"/>
<rect x="6" y="330" width="1193" height="2" fill="#00cc00"/>
<rect x="6" y="393" width="1193" height="2" fill="#4060e0"/>
<rect x="1199" y="21" width="2" height="1" fill="#000"/>
<rect x="1199" y="54" width="2" height="1" fill="#000"/>
<rect x="1199" y="87" width="2" height="1" fill="#000"/>
<rect x="1199" y="120" width="2" height="1" fill="#000"/>
<rect x="1199" y="153" width="2" height="1" fill="#000"/>
<rect x="1199" y="186" width="2" height="1" fill="#000"/>
<rect x="1199" y="219" width="2" height="1" fill="#000"/>
<rect x="1199" y="252" width="2" height="1" fill="#000"/>
<rect x="1199" y="285" width="2" height="1" fill="#000"/>
<rect x="1199" y="318" width="2" height="1" fill="#000"/>
<rect x="1199" y="351" width="2" height="1" fill="#000"/>
<rect x="1199" y="384" width="2" height="1" fill="#000"/>
<rect x="1199" y="417" width="2" height="1" fill="#000"/>
<rect x="1199" y="450" width="2" height="1" fill="#000"/>
<rect x="1199" y="457" width="1" height="1" fill="#000"/>
<rect x="1199" y="461" width="1" height="1" fill="#000"/>
<rect x="1199" y="566" width="1" height="1" fill="#000"/>
<rect x="1199" y="571" width="1" height="1" fill="#000"/>
<rect x="1199" y="669" width="1" height="1" fill="#000"/>
<rect x="6" y="671" width="1" height="3" fill="#000"/>
<rect x="70" y="671" width="1" height="3" fill="#000"/>
<rect x="134" y="671" width="1" height="3" fill="#000"/>
<rect x="198" y="671" width="1" height="3" fill="#000"/>
<rect x="262" y="671" width="1" height="3" fill="#000"/>
<rect x="326" y="671" width="1" height="3" fill="#000"/>
<rect x="390" y="671" width="1" height="3" fill="#000"/>
<rect x="454" y="671" width="1" height="3" fill="#000"/>
<rect x="518" y="671" width="1" height="3" fill="#000"/>
<rect x="582" y="671" width="1" height="3" fill="#000"/>
<rect x="646" y="671" width="1" height="3" fill="#000"/>
<rect x="710" y="671" width="1" height="3" fill="#000"/>
<rect x="774" y="671" width="1" height="3" fill="#000"/>
<rect x="838" y="671" width="1" height="3" fill="#000"/>
<rect x="902" y="671" width="1" height="3" fill="#000"/>
<rect x="1201" y="202" width="34" height="11" fill="#ff0000"/>
<rect x="1201" y="260" width="34" height="11" fill="#ff0000"/>
<rect x="1201" y="297" width="34" height="11" fill="#000"/>
<rect x="1201" y="325" width="34" height="11" fill="#00cc00"/>
<rect x="1201" y="388" width="34" height="11" fill="#4060e0"/>
<rect x="9" y="11" width="7" height="1" fill="#000"/>
<rect x="10" y="12" width="5" height="1" fill="#000"/>
<rect x="11" y="13" width="3" height="1" fill="#000"/>
<rect x="12" y="14" width="1" height="1" fill="#000"/>
<rect x="954" y="5" width="9" height="1" fill="#c0c0c0"/>
<rect x="955" y="6" width="7" height="1" fill="#c0c0c0"/>
<rect x="956" y="7" width="5" height="1" fill="#c0c0c0"/>
<rect x="957" y="8" width="3" height="1" fill="#c0c0c0"/>
<rect x="958" y="9" width="1" height="1" fill="#c0c0c0"/>
<text x="879.5" y="166.6" font-size="34.8" fill="#ff0000" font-family="&quot;Liberation Sans&quot;, &quot;Noto Sans CJK SC&quot;, sans-serif" text-rendering="geometricPrecision">多空转折点</text>
</svg>
<div class="layer">
<span class="t" style="left:1203.6px;top:16.0px;color:#000;transform:matrix(0.920,0.0005,0,1,0,0)">4880.0</span>
<span class="t" style="left:1203.6px;top:49.0px;color:#000;transform:matrix(0.920,0.0005,0,1,0,0)">4804.0</span>
<span class="t" style="left:1203.6px;top:82.0px;color:#000;transform:matrix(0.920,0.0005,0,1,0,0)">4728.0</span>
<span class="t" style="left:1203.6px;top:115.0px;color:#000;transform:matrix(0.920,0.0005,0,1,0,0)">4652.0</span>
<span class="t" style="left:1203.6px;top:148.0px;color:#000;transform:matrix(0.920,0.0005,0,1,0,0)">4576.0</span>
<span class="t" style="left:1203.6px;top:181.0px;color:#000;transform:matrix(0.920,0.0005,0,1,0,0)">4500.0</span>
<span class="t" style="left:1203.6px;top:214.0px;color:#000;transform:matrix(0.920,0.0005,0,1,0,0)">4424.0</span>
<span class="t" style="left:1203.6px;top:247.0px;color:#000;transform:matrix(0.920,0.0005,0,1,0,0)">4348.0</span>
<span class="t" style="left:1203.6px;top:280.0px;color:#000;transform:matrix(0.920,0.0005,0,1,0,0)">4272.0</span>
<span class="t" style="left:1203.6px;top:313.0px;color:#000;transform:matrix(0.920,0.0005,0,1,0,0)">4196.0</span>
<span class="t" style="left:1203.6px;top:346.0px;color:#000;transform:matrix(0.920,0.0005,0,1,0,0)">4120.0</span>
<span class="t" style="left:1203.6px;top:379.0px;color:#000;transform:matrix(0.920,0.0005,0,1,0,0)">4044.0</span>
<span class="t" style="left:1203.6px;top:412.0px;color:#000;transform:matrix(0.920,0.0005,0,1,0,0)">3968.0</span>
<span class="t" style="left:1203.6px;top:445.0px;color:#000;transform:matrix(0.920,0.0005,0,1,0,0)">3892.0</span>
<span class="t" style="left:1203.6px;top:202.0px;color:#fff;transform:matrix(0.920,0.0005,0,1,0,0)">4450.0</span>
<span class="t" style="left:1203.6px;top:260.0px;color:#fff;transform:matrix(0.920,0.0005,0,1,0,0)">4315.0</span>
<span class="t" style="left:1203.6px;top:297.0px;color:#fff;transform:matrix(0.920,0.0005,0,1,0,0)">4232.4</span>
<span class="t" style="left:1203.6px;top:325.0px;color:#fff;transform:matrix(0.920,0.0005,0,1,0,0)">4165.0</span>
<span class="t" style="left:1203.6px;top:388.0px;color:#fff;transform:matrix(0.920,0.0005,0,1,0,0)">4019.7</span>
<span class="t" style="left:1202.1px;top:456.0px;color:#000;transform:matrix(0.920,0.0005,0,1,0,0)">8.84</span>
<span class="t" style="left:1202.1px;top:457.0px;color:#000;transform:matrix(0.920,0.0005,0,1,0,0)">0.00</span>
<span class="t" style="left:1202.3px;top:555.0px;color:#000;transform:matrix(0.920,0.0005,0,1,0,0)">-140.44</span>
<span class="t" style="left:1202.2px;top:571.0px;color:#000;transform:matrix(0.920,0.0005,0,1,0,0)">100</span>
<span class="t" style="left:1201.2px;top:595.0px;color:#000;transform:matrix(0.920,0.0005,0,1,0,0)">70</span>
<span class="t" style="left:1201.2px;top:635.0px;color:#000;transform:matrix(0.920,0.0005,0,1,0,0)">30</span>
<span class="t" style="left:1202.2px;top:658.0px;color:#000;transform:matrix(0.920,0.0005,0,1,0,0)">0</span>
<span class="t" style="left:4.0px;top:674.0px;color:#000;transform:matrix(0.917,0.0005,0,1,0,0)">7 Jan 2022</span>
<span class="t" style="left:68.0px;top:674.0px;color:#000;transform:matrix(0.940,0.0005,0,1,0,0)">13 Jan 01:30</span>
<span class="t" style="left:132.0px;top:674.0px;color:#000;transform:matrix(0.940,0.0005,0,1,0,0)">19 Jan 01:30</span>
<span class="t" style="left:196.0px;top:674.0px;color:#000;transform:matrix(0.940,0.0005,0,1,0,0)">25 Jan 01:30</span>
<span class="t" style="left:260.0px;top:674.0px;color:#000;transform:matrix(0.940,0.0005,0,1,0,0)">7 Feb 01:30</span>
<span class="t" style="left:324.0px;top:674.0px;color:#000;transform:matrix(0.940,0.0005,0,1,0,0)">11 Feb 01:30</span>
<span class="t" style="left:388.0px;top:674.0px;color:#000;transform:matrix(0.940,0.0005,0,1,0,0)">17 Feb 01:30</span>
<span class="t" style="left:452.0px;top:674.0px;color:#000;transform:matrix(0.940,0.0005,0,1,0,0)">23 Feb 01:30</span>
<span class="t" style="left:516.0px;top:674.0px;color:#000;transform:matrix(0.940,0.0005,0,1,0,0)">1 Mar 01:30</span>
<span class="t" style="left:580.0px;top:674.0px;color:#000;transform:matrix(0.940,0.0005,0,1,0,0)">7 Mar 01:30</span>
<span class="t" style="left:644.0px;top:674.0px;color:#000;transform:matrix(0.940,0.0005,0,1,0,0)">11 Mar 01:30</span>
<span class="t" style="left:708.0px;top:674.0px;color:#000;transform:matrix(0.940,0.0005,0,1,0,0)">17 Mar 01:30</span>
<span class="t" style="left:772.0px;top:674.0px;color:#000;transform:matrix(0.940,0.0005,0,1,0,0)">23 Mar 01:30</span>
<span class="t" style="left:836.0px;top:674.0px;color:#000;transform:matrix(0.940,0.0005,0,1,0,0)">29 Mar 01:30</span>
<span class="t" style="left:900.0px;top:674.0px;color:#000;transform:matrix(0.940,0.0005,0,1,0,0)">6 Apr 01:30</span>
<span class="t" style="left:9.3px;top:459.0px;color:#000;transform:matrix(0.947,0.0005,0,1,0,0)">MACD(12,26,9) -1.42 -4.95</span>
<span class="t" style="left:8.7px;top:573.0px;color:#000;transform:matrix(0.932,0.0005,0,1,0,0)">RSI(14) 51.8231</span>
<span id="cjk">多空转折点</span><span id="note">4165</span>
</div>
</body>
</html>
